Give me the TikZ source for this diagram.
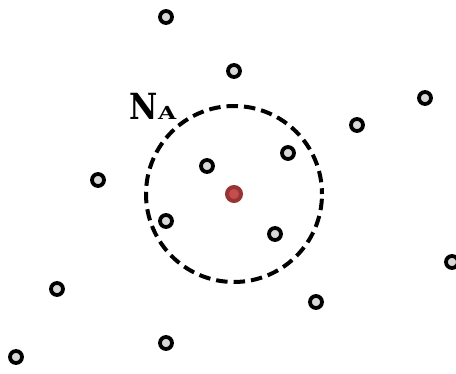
\documentclass[tikz,border=0pt]{standalone}
\usepackage{fontspec}
\newfontfamily\labfont{DejaVu Serif}
\definecolor{ptfill}{RGB}{216,216,216}
\definecolor{redin}{RGB}{196,78,78}
\definecolor{redout}{RGB}{152,52,52}
\begin{document}
\begin{tikzpicture}[x=1pt,y=-1pt,
  pt/.style={circle,draw=black,line width=3.8pt,fill=ptfill,minimum size=12pt,inner sep=0pt},
  ctr/.style={circle,draw=redout,line width=4pt,fill=redin,minimum size=14pt,inner sep=0pt},
  hood/.style={circle,draw=black,line width=4pt,dash pattern=on 11.5pt off 6pt,dash phase=5.75pt,minimum size=176pt,inner sep=0pt},
  labtxt/.style={anchor=base west,inner sep=0pt,font=\labfont\bfseries}]
\useasboundingbox (0,0) rectangle (456,374);
\node[hood] (N) at (234,194) {};
\node[ctr] (a) at (234,194) {};
\node[pt] (p1) at (166,17) {};
\node[pt] (p2) at (234,71) {};
\node[pt] (p3) at (425,98) {};
\node[pt] (p4) at (357,125) {};
\node[pt] (p5) at (288,153) {};
\node[pt] (p6) at (207,166) {};
\node[pt] (p7) at (98,180) {};
\node[pt] (p8) at (166,221) {};
\node[pt] (p9) at (275,234) {};
\node[pt] (p10) at (452,262) {};
\node[pt] (p11) at (57,289) {};
\node[pt] (p12) at (316,302) {};
\node[pt] (p13) at (166,343) {};
\node[pt] (p14) at (16,357) {};
\node[labtxt] (lab) at (129.5,120) {{\fontsize{36}{36}\selectfont\scalebox{0.86}[1]{N}}{\fontsize{18}{18}\selectfont\scalebox{1.3}[1]{A}}};
\end{tikzpicture}
\end{document}
